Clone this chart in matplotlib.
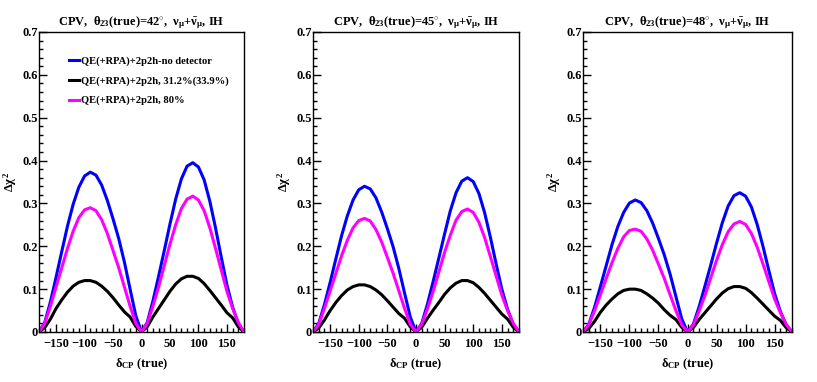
import matplotlib
matplotlib.use("Agg")
import matplotlib.pyplot as plt
from matplotlib.ticker import MultipleLocator, FuncFormatter

# --- data (delta_CP every 10 deg, -180..180) ---
delta_cp = list(range(-180, 181, 10))

theta_labels = ["42", "45", "48"]

blue_42 = [0, 0.022, 0.07, 0.128, 0.188, 0.247, 0.298, 0.338, 0.364, 0.373, 0.366, 0.343, 0.307, 0.264, 0.218, 0.163, 0.1, 0.038, 0,
           0.022, 0.072, 0.13, 0.19, 0.252, 0.31, 0.357, 0.387, 0.395, 0.385, 0.355, 0.305, 0.243, 0.175, 0.11, 0.058, 0.02, 0]
magenta_42 = [0, 0.02, 0.06, 0.105, 0.15, 0.195, 0.235, 0.267, 0.285, 0.29, 0.283, 0.262, 0.23, 0.19, 0.15, 0.105, 0.06, 0.02, 0,
              0.02, 0.06, 0.105, 0.155, 0.205, 0.25, 0.288, 0.31, 0.317, 0.308, 0.283, 0.243, 0.195, 0.145, 0.095, 0.055, 0.022, 0]
black_42 = [0, 0.01, 0.03, 0.055, 0.075, 0.093, 0.107, 0.116, 0.12, 0.12, 0.116, 0.107, 0.095, 0.08, 0.063, 0.047, 0.035, 0.013, 0,
            0.012, 0.035, 0.055, 0.075, 0.095, 0.112, 0.124, 0.13, 0.13, 0.125, 0.113, 0.097, 0.08, 0.063, 0.045, 0.033, 0.012, 0]

blue_45 = [0, 0.02, 0.064, 0.116, 0.171, 0.225, 0.271, 0.308, 0.332, 0.34, 0.334, 0.313, 0.28, 0.241, 0.199, 0.148, 0.091, 0.035, 0,
           0.02, 0.065, 0.118, 0.173, 0.229, 0.283, 0.325, 0.352, 0.36, 0.351, 0.323, 0.278, 0.221, 0.159, 0.1, 0.053, 0.018, 0]
magenta_45 = [0, 0.018, 0.055, 0.096, 0.137, 0.178, 0.214, 0.243, 0.26, 0.265, 0.259, 0.239, 0.21, 0.174, 0.137, 0.096, 0.055, 0.018, 0,
              0.018, 0.054, 0.095, 0.14, 0.186, 0.226, 0.261, 0.281, 0.287, 0.279, 0.256, 0.22, 0.176, 0.131, 0.086, 0.05, 0.02, 0]
black_45 = [0, 0.009, 0.028, 0.05, 0.069, 0.085, 0.098, 0.106, 0.11, 0.11, 0.106, 0.098, 0.087, 0.073, 0.058, 0.043, 0.032, 0.012, 0,
            0.011, 0.032, 0.051, 0.069, 0.088, 0.103, 0.114, 0.12, 0.12, 0.115, 0.104, 0.09, 0.074, 0.058, 0.042, 0.03, 0.011, 0]

blue_48 = [0, 0.018, 0.058, 0.106, 0.155, 0.204, 0.246, 0.279, 0.301, 0.308, 0.302, 0.283, 0.254, 0.218, 0.18, 0.135, 0.083, 0.031, 0,
           0.018, 0.059, 0.107, 0.156, 0.207, 0.255, 0.294, 0.318, 0.325, 0.317, 0.292, 0.251, 0.2, 0.144, 0.09, 0.048, 0.016, 0]
magenta_48 = [0, 0.017, 0.05, 0.087, 0.125, 0.162, 0.195, 0.222, 0.237, 0.24, 0.235, 0.217, 0.191, 0.158, 0.125, 0.087, 0.05, 0.017, 0,
              0.016, 0.049, 0.085, 0.126, 0.167, 0.204, 0.234, 0.252, 0.258, 0.251, 0.23, 0.198, 0.159, 0.118, 0.077, 0.045, 0.018, 0]
black_48 = [0, 0.008, 0.025, 0.046, 0.063, 0.077, 0.089, 0.097, 0.1, 0.1, 0.097, 0.089, 0.079, 0.067, 0.052, 0.039, 0.029, 0.011, 0,
            0.01, 0.029, 0.045, 0.061, 0.077, 0.091, 0.101, 0.106, 0.106, 0.102, 0.092, 0.079, 0.065, 0.051, 0.037, 0.027, 0.01, 0]

panels = [
    (blue_42, black_42, magenta_42),
    (blue_45, black_45, magenta_45),
    (blue_48, black_48, magenta_48),
]
series_labels = ["QE(+RPA)+2p2h-no detector",
                 "QE(+RPA)+2p2h, 31.2%(33.9%)",
                 "QE(+RPA)+2p2h, 80%"]
series_colors = ["#0000ff", "#000000", "#ff00ff"]

# --- style: bold Times-like ---
plt.rcParams["font.family"] = ["Liberation Serif", "DejaVu Serif"]
plt.rcParams["font.weight"] = "bold"
plt.rcParams["mathtext.fontset"] = "custom"
plt.rcParams["mathtext.rm"] = "Liberation Serif:bold"
plt.rcParams["mathtext.it"] = "Liberation Serif:bold"
plt.rcParams["mathtext.bf"] = "Liberation Serif:bold"

fig = plt.figure(figsize=(8.17, 3.82), dpi=100)
lefts = [39 / 817, 313 / 817, 583 / 817]
widths = [205 / 817, 206 / 817, 209 / 817]
bottom = 50 / 382
height = 300 / 382

for i, (curves, theta) in enumerate(zip(panels, theta_labels)):
    ax = fig.add_axes([lefts[i], bottom, widths[i], height])
    for y, c, lab in zip(curves, series_colors, series_labels):
        ax.plot(delta_cp, y, color=c, lw=2.2, label=lab, solid_joinstyle="round")
    ax.set_xlim(-180, 180)
    ax.set_ylim(0, 0.7)
    ax.xaxis.set_major_locator(MultipleLocator(50))
    ax.xaxis.set_minor_locator(MultipleLocator(10))
    ax.yaxis.set_major_locator(MultipleLocator(0.1))
    ax.yaxis.set_minor_locator(MultipleLocator(0.02))
    ax.yaxis.set_major_formatter(FuncFormatter(lambda v, p: "0" if abs(v) < 1e-9 else f"{v:.1f}"))
    ax.xaxis.set_major_formatter(FuncFormatter(lambda v, p: f"{v:.0f}".replace("-", "\u2212")))
    ax.tick_params(which="both", direction="in", top=False, right=False, labelsize=9, width=1)
    ax.tick_params(axis="x", which="major", length=6, pad=4)
    ax.tick_params(axis="x", which="minor", length=3)
    ax.tick_params(axis="y", which="major", length=6, pad=1)
    ax.tick_params(axis="y", which="minor", length=3)
    for lbl in ax.get_xticklabels() + ax.get_yticklabels():
        lbl.set_fontweight("bold")
    for s in ax.spines.values():
        s.set_linewidth(1.0)
    ax.set_title(r"CPV,  $\theta_{23}$(true)=" + theta + r"$^{\circ}$,  $\nu_{\mu}$+$\bar{\nu}_{\mu}$, IH",
                 fontsize=9, fontweight="bold", pad=5)
    ax.set_xlabel(r"$\delta_{\rm CP}$ (true)", fontsize=9, fontweight="bold", labelpad=5)
    ax.set_ylabel(r"$\Delta\chi^{2}$", fontsize=9, fontweight="bold", labelpad=2)
    if i == 0:
        ax.legend(loc="upper left", bbox_to_anchor=(0.1, 0.95), frameon=False,
                  handlelength=0.9, handletextpad=0.25,
                  labelspacing=0.95, prop={"weight": "bold", "size": 7.6})

fig.savefig("out.png", dpi=100)
